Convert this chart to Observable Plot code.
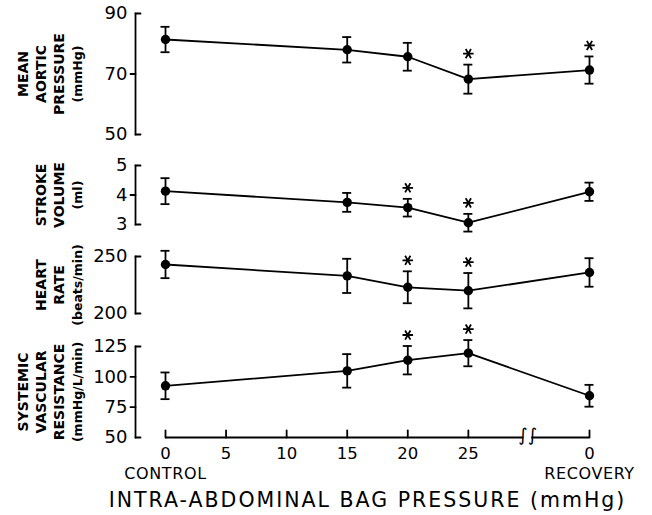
<!DOCTYPE html>
<html><head><meta charset="utf-8">
<script src="https://cdn.jsdelivr.net/npm/d3@7"></script>
<script src="https://cdn.jsdelivr.net/npm/@observablehq/plot@0.6"></script>
<style>
body{margin:0;background:#fff;}
#chart{position:relative;width:652px;height:515px;overflow:hidden;font-family:"DejaVu Sans",sans-serif;background:#fff;}
#chart svg{position:absolute;left:0;overflow:visible;}
</style></head><body><div id="chart"></div>
<script>
// ---- data ----
const xPos = [0, 15, 20, 25, 35];            // control 0..25, recovery shown after axis break
const xTicks = [0, 5, 10, 15, 20, 25, 35];
const xTickLabels = ["0", "5", "10", "15", "20", "25", "0"];
const axisBreak = 29.9;
const phaseLabels = ["CONTROL", "RECOVERY"];
const xTitle = "INTRA-ABDOMINAL BAG PRESSURE (mmHg)";

const mapMean = [81.4, 78.0, 75.7, 68.3, 71.3];
const mapErr  = [4.2, 4.2, 4.6, 4.8, 4.5];
const mapStar = [false, false, false, true, true];
const mapTicks = [50, 70, 90];

const svMean = [4.13, 3.75, 3.57, 3.06, 4.11];
const svErr  = [0.44, 0.32, 0.30, 0.30, 0.31];
const svStar = [false, false, true, true, false];
const svTicks = [3, 4, 5];

const hrMean = [243, 233, 223, 220, 236];
const hrErr  = [12, 15, 14, 15.5, 12.5];
const hrStar = [false, false, true, true, false];
const hrTicks = [200, 250];

const svrMean = [92.6, 104.9, 113.7, 119.5, 84.4];
const svrErr  = [11, 13.8, 11.7, 10.8, 9];
const svrStar = [false, false, true, true, false];
const svrTicks = [50, 75, 100, 125];

// ---- layout ----
const panels = [
  {name: ["MEAN", "AORTIC", "PRESSURE"], unit: "(mmHg)", mean: mapMean, err: mapErr, star: mapStar, ticks: mapTicks, top: 0, height: 150, mt: 13, mb: 16},
  {name: ["STROKE", "VOLUME"], unit: "(ml)", mean: svMean, err: svErr, star: svStar, ticks: svTicks, top: 150, height: 90, mt: 15, mb: 16},
  {name: ["HEART", "RATE"], unit: "(beats/min)", mean: hrMean, err: hrErr, star: hrStar, ticks: hrTicks, top: 240, height: 90, mt: 16, mb: 17},
  {name: ["SYSTEMIC", "VASCULAR", "RESISTANCE"], unit: "(mmHg/L/min)", mean: svrMean, err: svrErr, star: svrStar, ticks: svrTicks, top: 330, height: 185, mt: 16, mb: 78, bottom: true}
];

const SW = 1.8;
const tickRight = {draw(ctx, l) { ctx.moveTo(0, 0); ctx.lineTo(l, 0); }};
const tickLeft  = {draw(ctx, l) { ctx.moveTo(0, 0); ctx.lineTo(-l, 0); }};
const tickUp    = {draw(ctx, l) { ctx.moveTo(0, 0); ctx.lineTo(0, -l); }};

const chart = document.getElementById("chart");

for (const p of panels) {
  const rows = xPos.map((x, i) => ({x, m: p.mean[i], e: p.err[i], s: p.star[i]}));
  const ends = [p.ticks[0], p.ticks[p.ticks.length - 1]];
  const mids = p.ticks.slice(1, -1);
  const marks = [
    Plot.frame({anchor: "left", stroke: "black", strokeWidth: SW}),
    Plot.vector(ends, {y: d => d, frameAnchor: "left", length: 5, anchor: "start", shape: tickRight, stroke: "black", strokeWidth: SW}),
    Plot.vector(mids, {y: d => d, frameAnchor: "left", length: 5, anchor: "start", shape: tickLeft, stroke: "black", strokeWidth: SW}),
    Plot.axisY({ticks: p.ticks, tickSize: 0, tickPadding: 8, fontSize: 18, label: null, tickFormat: d => String(d)}),
    Plot.text([p.name.join("\n")], {text: d => d, frameAnchor: "left", textAnchor: "middle", dx: -72, rotate: -90, lineAnchor: "bottom", lineHeight: 1.27, fontSize: 14, fontWeight: "bold"}),
    Plot.text([p.unit], {text: d => d, frameAnchor: "left", textAnchor: "middle", dx: -54, rotate: -90, lineAnchor: "bottom", fontSize: 12.5, fontWeight: "bold"}),
    Plot.ruleX(rows, {x: "x", y1: d => d.m - d.e, y2: d => d.m + d.e, stroke: "black", strokeWidth: SW}),
    Plot.ruleY(rows, {y: d => d.m + d.e, x1: "x", x2: "x", insetLeft: -4.5, insetRight: -4.5, stroke: "black", strokeWidth: SW}),
    Plot.ruleY(rows, {y: d => d.m - d.e, x1: "x", x2: "x", insetLeft: -4.5, insetRight: -4.5, stroke: "black", strokeWidth: SW}),
    Plot.line(rows, {x: "x", y: "m", stroke: "black", strokeWidth: SW}),
    Plot.dot(rows, {x: "x", y: "m", r: 4.7, fill: "black", stroke: null}),
    Plot.dot(rows.filter(d => d.s), {x: "x", y: d => d.m + d.e, dy: -11, symbol: "asterisk", r: 5, rotate: 90, stroke: "black", strokeWidth: SW})
  ];
  if (p.bottom) {
    const base = p.ticks[0];
    marks.push(
      Plot.ruleY([base], {y: d => d, x1: () => xPos[0], x2: () => xPos[xPos.length - 1], stroke: "black", strokeWidth: SW}),
      Plot.ruleY([base], {y: d => d, x1: () => axisBreak, x2: () => axisBreak, insetLeft: -4, insetRight: -4, stroke: "white", strokeWidth: 4}),
      Plot.vector(xTicks, {x: d => d, frameAnchor: "bottom", length: 7, anchor: "start", shape: tickUp, stroke: "black", strokeWidth: SW}),
      Plot.axisX({ticks: xTicks, tickSize: 0, tickPadding: 10, fontSize: 16.5, label: null, tickFormat: d => xTickLabels[xTicks.indexOf(d)]}),
      Plot.text([axisBreak], {x: d => d, text: () => "∫∫", frameAnchor: "bottom", lineAnchor: "middle", dy: -2, fontSize: 18, fill: "black"}),
      Plot.text(phaseLabels, {x: (d, i) => i === 0 ? xPos[0] : xPos[xPos.length - 1], text: d => d, frameAnchor: "bottom", lineAnchor: "middle", textAnchor: "middle", dy: 36, fontSize: 16}),
      Plot.text([xTitle], {text: d => d, frameAnchor: "bottom", lineAnchor: "middle", textAnchor: "middle", dx: 5, dy: 62.5, fontSize: 20.5})
    );
  }
  const svg = Plot.plot({
    width: 652,
    height: p.height,
    marginLeft: 135,
    marginRight: 63,
    marginTop: p.mt,
    marginBottom: p.mb,
    x: {domain: [0, 35], range: [165, 589], axis: null},
    y: {domain: [p.ticks[0], p.ticks[p.ticks.length - 1]], axis: null},
    style: {fontFamily: '"DejaVu Sans", sans-serif', color: "black", background: "transparent", overflow: "visible"},
    marks
  });
  // letter spacing of the wide hand lettering
  const spacingFor = new Map([
    [xTitle, "2px"],
    ...phaseLabels.map(t => [t, "0.6px"])
  ]);
  svg.querySelectorAll("text").forEach(t => {
    const ls = spacingFor.get(t.textContent);
    if (ls) t.style.letterSpacing = ls;
  });
  svg.style.top = p.top + "px";
  chart.appendChild(svg);
}
</script>
</body></html>
